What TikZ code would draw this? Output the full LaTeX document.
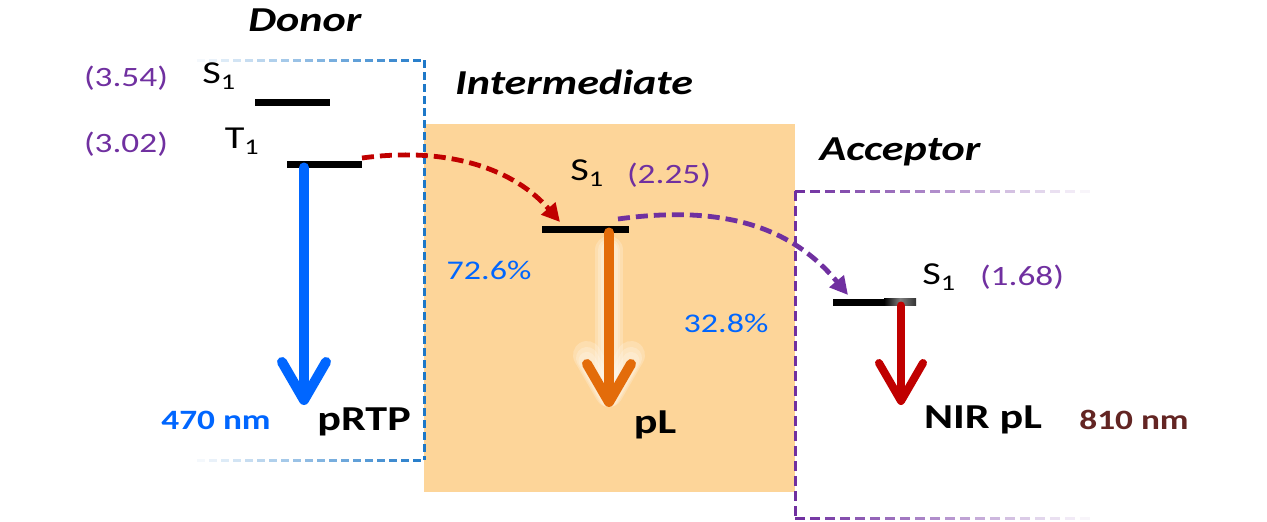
\documentclass[tikz,border=0pt]{standalone}
\usepackage{fontspec}
\setmainfont{Carlito}[FakeStretch=1.26]
\usetikzlibrary{arrows.meta}
\definecolor{boxblue}{RGB}{30,120,200}
\definecolor{eblue}{RGB}{0,102,255}
\definecolor{purp}{RGB}{112,48,160}
\definecolor{dred}{RGB}{192,0,0}
\definecolor{orng}{RGB}{227,108,10}
\definecolor{peach}{RGB}{253,213,153}
\definecolor{nmbrown}{RGB}{99,37,35}
\begin{document}
\begin{tikzpicture}[x=1pt,y=-1pt,
  every node/.style={inner sep=0pt, outer sep=0pt},
  lvl/.style={fill=black, minimum height=7pt},
  title/.style={font=\fontsize{35}{37}\selectfont\bfseries\itshape},
  energy/.style={text=purp, font=\fontsize{28}{30}\selectfont},
  state/.style={font=\fontsize{32}{34}\selectfont},
  pct/.style={text=eblue, font=\fontsize{27}{29}\selectfont},
  emit/.style={font=\fontsize{35}{37}\selectfont\bfseries},
  nm/.style={font=\fontsize{28}{30}\selectfont\bfseries},
  transfer/.style={line width=4.8pt, dash pattern=on 12pt off 6pt, -{Triangle[length=18pt,width=18pt]}},
  emission/.style={line width=#1, line cap=round, -{Straight Barb[length=38pt,width=44pt,round]}},
]
\useasboundingbox (0,0) rectangle (1267,522);
% intermediate background
\fill[peach] (424,124) rectangle (795,492);
% donor box (blue, fading to the left)
\draw[boxblue, line width=3pt, dash pattern=on 8pt off 4pt] (424,60) -- (424,460);
\foreach \x in {185,197,...,413}{
  \pgfmathtruncatemacro\p{(\x-185)/239*100}
  \draw[boxblue!\p!white, line width=3pt] (\x,60) -- (\x+8,60);
  \draw[boxblue!\p!white, line width=3pt] (\x,460) -- (\x+8,460);
}
% acceptor box (purple, fading to the right)
\draw[purp, line width=3pt, dash pattern=on 10pt off 5pt] (795,191) -- (795,518);
\foreach \x in {795,810,...,1085}{
  \pgfmathtruncatemacro\p{(1097-\x)/302*100}
  \draw[purp!\p!white, line width=3pt] (\x,191) -- (\x+10,191);
  \draw[purp!\p!white, line width=3pt] (\x,518) -- (\x+10,518);
}
% titles
\node[title] (tdon) at (305,20) {Donor};
\node[title] (tint) at (574,82) {Intermediate};
\node[title] (tacc) at (900,152) {Acceptor};
% donor
\node[energy] (e354) at (126,78) {(3.54)};
\node[energy] (e302) at (126,144) {(3.02)};
\node[state] (sdS1) at (219,76) {S\textsubscript{1}};
\node[state] (sdT1) at (242,141) {T\textsubscript{1}};
\node[lvl, minimum width=75pt] (dS1) at (292.5,102) {};
\node[lvl, minimum width=75pt] (dT1) at (324.5,164) {};
\coordinate (dEnd) at (304,405);
\draw[eblue, emission=10pt] (dT1.south -| dEnd) -- (dEnd);
\node[nm, text=eblue] (n470) at (216,420) {470 nm};
\node[emit] (prtp) at (364,422) {pRTP};
% intermediate
\node[state] (siS1) at (587,173) {S\textsubscript{1}};
\node[energy] (e225) at (669,175) {(2.25)};
\node[lvl, minimum width=87pt] (iS1) at (585.5,229) {};
\node[pct] (p726) at (489,270) {72.6\%};
\node[pct] (p328) at (726,323) {32.8\%};
\coordinate (iEnd) at (609,407);
\coordinate (iGlow) at (609,250);
\foreach \w in {28,22,17}{
  \draw[white, opacity=0.22, emission=\w pt] (iGlow) -- (iEnd);
}
\draw[orng, emission=10pt] (iS1.south -| iEnd) -- (iEnd);
\node[emit] (pl) at (655,425) {pL};
% acceptor
\node[lvl, minimum width=83pt] (aS1) at (874.5,302) {};
\shade[left color=black, right color=black!80, middle color=black!50] (884,298.5) rectangle (916,305.5);
\node[state] (saS1) at (939,277) {S\textsubscript{1}};
\node[energy] (e168) at (1022,277) {(1.68)};
\coordinate (aEnd) at (901,405);
\draw[dred, emission=8pt] (aS1.south -| aEnd) -- (aEnd);
\node[emit] (nir) at (983,420) {NIR pL};
\node[nm, text=nmbrown] (n810) at (1134,420) {810 nm};
% energy transfer arrows
\coordinate (rStart) at (362,158);
\coordinate (rEnd) at (560,222);
\draw[dred, transfer] (rStart) .. controls (450,146) and (515,170) .. (rEnd);
\coordinate (pStart) at (618,219);
\coordinate (pEnd) at (848,295);
\draw[purp, transfer] (pStart) .. controls (720,205) and (790,225) .. (pEnd);
\end{tikzpicture}
\end{document}
